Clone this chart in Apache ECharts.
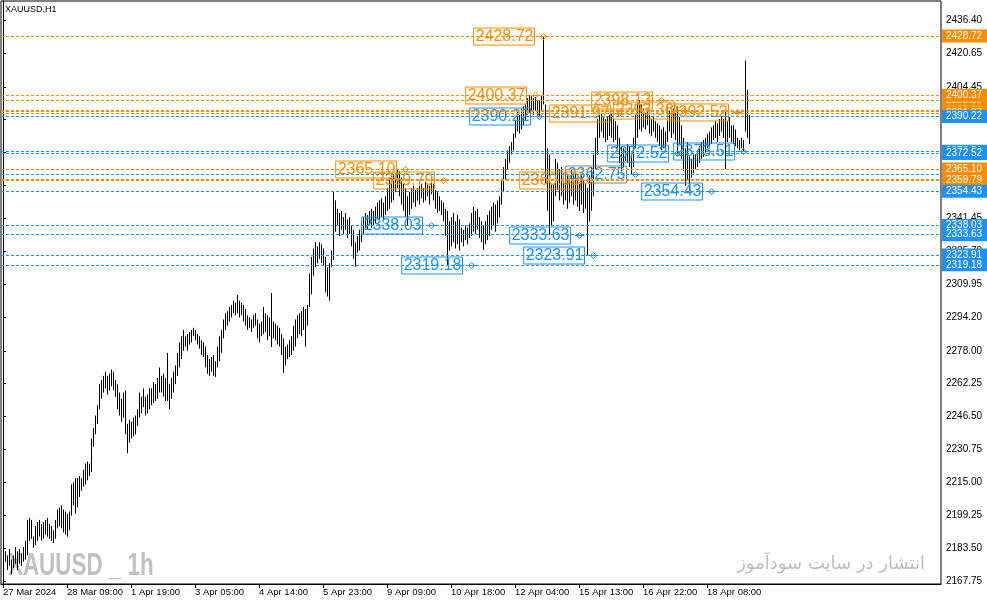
<!DOCTYPE html>
<html>
<head>
<meta charset="utf-8">
<script src="https://cdn.jsdelivr.net/npm/echarts@6/dist/echarts.min.js"></script>
<style>
  html, body { margin: 0; padding: 0; background: #fff; }
  #chart { width: 987px; height: 605px; }
</style>
</head>
<body>
<div id="chart"></div>
<script>
// 时间刻度（每32根K线一个）
var tickLabels = ['27 Mar 2024', '28 Mar 09:00', '1 Apr 19:00', '3 Apr 05:00', '4 Apr 14:00', '5 Apr 23:00',
	'9 Apr 09:00', '10 Apr 18:00', '12 Apr 04:00', '15 Apr 13:00', '16 Apr 22:00', '18 Apr 08:00'];
var tickBars = [0, 32, 64, 96, 128, 160, 192, 224, 256, 288, 320, 352];

// 价格刻度
var priceTicks = [2167.75, 2183.50, 2199.25, 2215.00, 2230.75, 2246.50, 2262.25, 2278.00, 2294.20,
	2309.95, 2325.70, 2341.45, 2357.20, 2372.95, 2388.70, 2404.45, 2420.65, 2436.40];

// XAUUSD H1 最低价
var lows = [
	2176, 2177, 2173, 2175, 2171, 2174, 2176, 2173, 2176, 2175,
	2177, 2178, 2180, 2187, 2188, 2183.6, 2185, 2187, 2189, 2187,
	2188, 2190, 2189, 2188, 2187, 2186, 2188, 2193, 2194, 2193,
	2191, 2190, 2189, 2192, 2199, 2204, 2200, 2203, 2208, 2211,
	2213, 2214, 2216, 2218, 2220, 2232, 2238, 2243, 2250, 2255,
	2258, 2260, 2257, 2259, 2261, 2259, 2256, 2250, 2247, 2244,
	2246, 2238, 2229, 2234, 2236, 2237, 2238, 2242, 2246, 2248,
	2251, 2247, 2248, 2250, 2252, 2253, 2254, 2255, 2258, 2258,
	2256, 2254, 2254, 2250, 2255, 2258, 2262, 2266, 2270, 2274,
	2278, 2280, 2278, 2281, 2282, 2285, 2283, 2281, 2279, 2276,
	2275, 2270, 2267, 2266, 2268, 2266, 2265.5, 2270, 2273, 2277,
	2284, 2288, 2290, 2292, 2294, 2296, 2295, 2296, 2294, 2295,
	2292, 2290, 2288, 2289, 2287, 2289, 2290, 2284, 2282, 2285,
	2286, 2287, 2283, 2285, 2279.8, 2284, 2283, 2281, 2280, 2276,
	2267.4, 2271, 2274, 2275, 2276, 2278, 2280, 2284, 2286, 2285,
	2288, 2280, 2290, 2299, 2305, 2314, 2318, 2320, 2322, 2320,
	2319, 2306, 2304, 2302, 2318, 2321.5, 2335, 2338, 2333, 2336,
	2334, 2336, 2332, 2334, 2328, 2322, 2318.2, 2325, 2326, 2330,
	2334, 2337, 2336, 2338, 2337, 2338, 2339, 2341, 2340, 2342,
	2340, 2343, 2345, 2346, 2349, 2350, 2354, 2356, 2352, 2348,
	2345, 2342, 2338.03, 2343, 2346, 2349, 2347, 2350, 2348, 2351,
	2349, 2350, 2352, 2348, 2353, 2350, 2346, 2344, 2345, 2343,
	2340, 2333, 2319.18, 2326, 2328, 2330, 2327, 2329, 2326, 2330,
	2328, 2331, 2329, 2332, 2333, 2335, 2334, 2336, 2332, 2330,
	2326.3, 2329, 2331, 2333, 2336, 2338, 2335, 2339, 2342, 2348,
	2354, 2360, 2365, 2368, 2372, 2374, 2380, 2383, 2382, 2384,
	2386, 2388, 2391, 2392, 2393, 2391, 2393, 2391, 2390.22, 2393,
	2396, 2358, 2345, 2333.63, 2338, 2340, 2352, 2355, 2350, 2352,
	2348, 2350, 2346, 2349, 2352, 2348, 2350, 2347, 2345, 2348,
	2344, 2346, 2323.91, 2340, 2345, 2352, 2365, 2372, 2380, 2383,
	2380, 2378, 2379, 2381, 2380, 2378, 2379, 2375, 2368, 2364,
	2366, 2369, 2368, 2366, 2362.75, 2366, 2375, 2380, 2384, 2383,
	2385, 2384, 2386, 2382, 2381, 2383, 2380, 2378, 2376, 2374,
	2375, 2373, 2378, 2383, 2380, 2382, 2379, 2372.52, 2377, 2370,
	2364, 2357, 2360, 2354.43, 2361, 2363, 2365, 2366, 2368, 2370,
	2371, 2373, 2375, 2376, 2377, 2379, 2380, 2378, 2381, 2383,
	2380, 2365, 2378, 2380, 2378, 2377, 2376, 2375, 2374, 2375,
	2373.51, 2383, 2380, 2377
];

// XAUUSD H1 最高价
var highs = [
	2181, 2182, 2180, 2183, 2178, 2180, 2184, 2182, 2183, 2181,
	2184, 2187, 2197, 2198, 2197, 2189, 2194, 2196, 2197, 2195,
	2196, 2197, 2198, 2195, 2194, 2192, 2197, 2202, 2203, 2204,
	2202, 2201, 2200, 2201, 2214, 2215, 2217, 2217, 2218, 2217,
	2221, 2224, 2225, 2224, 2236, 2241, 2247, 2252, 2262, 2264,
	2266, 2268, 2266, 2267, 2269, 2268, 2264, 2262, 2258, 2255,
	2258, 2259, 2243, 2245, 2244, 2246, 2247, 2250, 2258, 2256,
	2260, 2256, 2257, 2260, 2260, 2263, 2262, 2265, 2270, 2266,
	2267, 2265, 2277, 2262, 2265, 2268, 2271, 2277, 2282, 2285,
	2288, 2285, 2286, 2287, 2288, 2289, 2288, 2286, 2285, 2283,
	2282, 2280, 2276, 2274, 2275, 2276, 2273, 2280, 2285, 2288,
	2293, 2296, 2297, 2299, 2300, 2302, 2301, 2304.7, 2302, 2301,
	2300, 2298, 2295, 2294, 2293, 2295, 2296, 2293, 2291, 2292,
	2299, 2296, 2295, 2294, 2305.7, 2292, 2291, 2290, 2289, 2286,
	2284, 2280, 2281, 2283, 2285, 2290, 2293, 2295, 2296, 2297,
	2299, 2298, 2300, 2315, 2323, 2327, 2330, 2328, 2330, 2329,
	2327, 2323, 2318, 2320, 2326, 2354, 2350, 2346, 2344, 2345,
	2342, 2344, 2341, 2342, 2338, 2336, 2330, 2333, 2336, 2340,
	2342, 2344, 2343, 2345, 2346, 2345, 2347, 2349, 2350, 2351,
	2349, 2352, 2356, 2360, 2362, 2362, 2363, 2365.1, 2364, 2361,
	2358, 2356, 2352, 2354, 2356, 2357, 2355, 2356, 2357, 2358,
	2356, 2359, 2358, 2357, 2359.79, 2358, 2355, 2354, 2352, 2350,
	2349, 2346, 2345, 2340, 2342, 2344, 2340, 2343, 2341, 2337,
	2336, 2338, 2337, 2339, 2344, 2347, 2345, 2346, 2342, 2340,
	2338, 2340, 2343, 2345, 2347, 2349, 2348, 2350, 2352, 2360,
	2366, 2370, 2374, 2376, 2378, 2382, 2388, 2393, 2391, 2394,
	2395, 2396, 2399, 2400.37, 2400, 2399, 2399.5, 2398, 2398, 2400,
	2428.72, 2396, 2375, 2372, 2358, 2358, 2370, 2368, 2365, 2366,
	2363, 2364, 2362, 2360, 2365, 2362, 2363, 2361, 2358, 2362,
	2360, 2358, 2356, 2362, 2366, 2372, 2380, 2389, 2391, 2392,
	2390, 2389, 2390, 2391, 2391.97, 2389, 2388, 2386, 2380, 2376,
	2375, 2374, 2377, 2376, 2372, 2380, 2391, 2396, 2398.13, 2396,
	2394, 2392, 2393, 2391, 2389, 2390, 2388, 2387, 2386, 2384,
	2385, 2383, 2393.36, 2393, 2392, 2394, 2392, 2395, 2390, 2386,
	2380, 2375, 2378, 2371, 2370, 2372, 2372, 2374, 2376, 2378,
	2379, 2380, 2382, 2383, 2385, 2386, 2388, 2387, 2389, 2390,
	2389, 2392.52, 2388, 2390, 2386, 2386, 2384, 2380, 2379, 2380,
	2379, 2417, 2403, 2391
];

// 高低点价格标签（先画被遮住的）
var levelPrices = [2398.13, 2393.36, 2392.52, 2391.97, 2400.37, 2428.72, 2390.22, 2373.51, 2372.52,
	2362.75, 2360.02, 2365.10, 2359.79, 2354.43, 2338.03, 2333.63, 2323.91, 2319.18];
var levelKinds = ['high', 'high', 'high', 'high', 'high', 'high', 'low', 'low', 'low',
	'mid', 'high', 'high', 'high', 'low', 'low', 'low', 'low', 'low'];
var levelBars = [329, 340, 367, 308, 266, 270, 268, 370, 337,
	316, 293, 201, 220, 354, 214, 288, 295, 234];

var ORANGE = '#FF8C00';
var BLUE = '#1E90FF';
var FONT = 'Liberation Sans';

function kindColor(kind) {
	return kind === 'high' ? ORANGE : BLUE;
}

var myChart = echarts.init(document.getElementById('chart'), null, { renderer: 'canvas' });

var barData = [];
for (var i = 0; i < lows.length; i++) {
	barData.push([i, lows[i], highs[i]]);
}

var levelData = [];
var markLines = [];
for (var k = 0; k < levelPrices.length; k++) {
	levelData.push([levelBars[k], levelPrices[k]]);
	var c = kindColor(levelKinds[k]);
	markLines.push({
		yAxis: levelPrices[k],
		lineStyle: { color: c, type: [3, 2], width: 1 },
		label: {
			show: true,
			position: 'end',
			distance: 1,
			formatter: levelPrices[k].toFixed(2),
			color: '#fff',
			backgroundColor: c,
			padding: [2, 5, 1, 4],
			fontSize: 10,
			fontFamily: FONT
		}
	});
}

var option = {
	animation: false,
	backgroundColor: '#fff',
	grid: {
		left: 1,
		top: 1,
		right: 46,
		bottom: 21,
		show: true,
		borderColor: '#000',
		borderWidth: 1
	},
	xAxis: {
		type: 'value',
		min: -1,
		max: 469,
		axisLine: { show: true, onZero: false, lineStyle: { color: '#000', width: 1 } },
		axisTick: { show: true, length: 4, customValues: tickBars, lineStyle: { color: '#000' } },
		axisLabel: {
			customValues: tickBars,
			formatter: function (v) { return tickLabels[Math.round(v / 32)] || ''; },
			align: 'left',
			margin: 3,
			color: '#000',
			fontSize: 9.5,
			fontFamily: FONT
		},
		splitLine: { show: false }
	},
	yAxis: {
		type: 'value',
		position: 'right',
		min: 2166.31,
		max: 2445.53,
		axisLine: { show: true, lineStyle: { color: '#000', width: 1 } },
		axisTick: { show: true, length: 3, customValues: priceTicks, lineStyle: { color: '#000' } },
		axisLabel: {
			customValues: priceTicks,
			formatter: function (v) { return v.toFixed(2); },
			margin: 5,
			color: '#000',
			fontSize: 10,
			fontFamily: FONT
		},
		splitLine: { show: false }
	},
	graphic: [
		{
			type: 'text', x: 5, y: 5, z: 1,
			style: { text: 'XAUUSD,H1', fill: '#000', font: '9px "Liberation Sans"' }
		},
		{
			type: 'text', x: 8, y: 566, scaleX: 0.7, z: 1,
			style: {
				text: 'XAUUSD _ 1h', fill: '#C0C0C0', font: 'bold 32px "Liberation Sans"',
				textAlign: 'left', textVerticalAlign: 'middle'
			}
		},
		{
			type: 'text', x: 925, y: 564, z: 1,
			style: {
				text: 'انتشار در سایت سودآموز', fill: '#BDBDBD', font: '18px "DejaVu Sans"',
				textAlign: 'right', textVerticalAlign: 'middle'
			}
		}
	],
	series: [
		{
			// 水平虚线 + 右侧价格标签
			type: 'line',
			data: [],
			z: 1,
			markLine: {
				silent: true,
				symbol: 'none',
				animation: false,
				data: markLines
			}
		},
		{
			// 美国线（最高-最低）
			type: 'custom',
			z: 2,
			data: barData,
			encode: { x: 0, y: [1, 2] },
			renderItem: function (params, api) {
				var lo = api.coord([api.value(0), api.value(1)]);
				var hi = api.coord([api.value(0), api.value(2)]);
				var x = Math.round(lo[0]) + 0.5;
				return {
					type: 'line',
					shape: { x1: x, y1: lo[1], x2: x, y2: hi[1] },
					style: { stroke: '#000', lineWidth: 1 }
				};
			}
		},
		{
			// 图内价格框
			type: 'custom',
			z: 3,
			data: levelData,
			encode: { x: 0, y: 1 },
			renderItem: function (params, api) {
				var k = params.dataIndex;
				var p = api.coord([api.value(0), api.value(1)]);
				var kind = levelKinds[k];
				var c = kindColor(kind);
				var border = kind === 'mid' ? '#808080' : c;
				var px = Math.round(p[0]) + 0.5;
				var py = Math.round(p[1]) + 0.5;
				return {
					type: 'group',
					children: [
						{
							type: 'text',
							x: px - 9,
							y: py,
							style: {
								text: levelPrices[k].toFixed(2),
								fill: c,
								font: '16px "Liberation Sans"',
								align: 'right',
								verticalAlign: 'middle',
								borderColor: border,
								borderWidth: 1,
								padding: [1, 1, 0, 2]
							}
						},
						{
							type: 'polygon',
							shape: { points: [[px - 3, py], [px, py - 3], [px + 3, py], [px, py + 3]] },
							style: { fill: 'none', stroke: c, lineWidth: 1 }
						},
						{
							type: 'line',
							shape: { x1: px - 5, y1: py, x2: px + 5, y2: py },
							style: { stroke: c, lineWidth: 1 }
						}
					]
				};
			}
		}
	]
};

myChart.setOption(option);
</script>
</body>
</html>
